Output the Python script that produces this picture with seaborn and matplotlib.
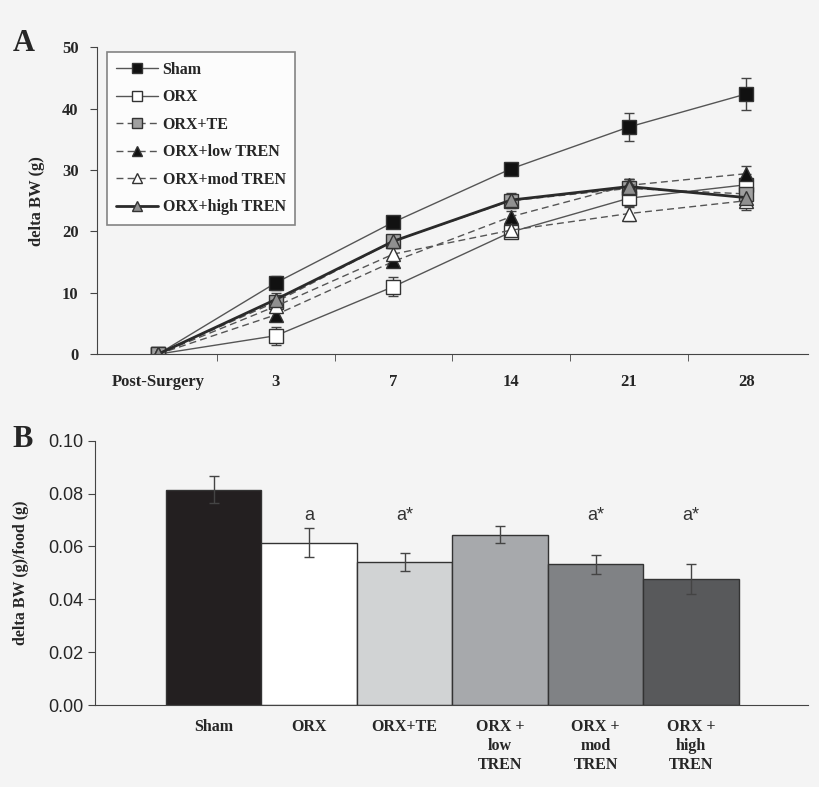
import matplotlib
matplotlib.use("Agg")
import matplotlib.pyplot as plt
import seaborn as sns
import pandas as pd

# Panel A: body weight change over time
days = ["Post-Surgery", "3", "7", "14", "21", "28"]
groups = ["Sham", "ORX", "ORX+TE", "ORX+low TREN", "ORX+mod TREN", "ORX+high TREN"]
sham = [0, 11.6, 21.5, 30.2, 37.0, 42.4]
orx = [0, 3.0, 11.0, 19.9, 25.4, 27.6]
orx_te = [0, 8.5, 18.4, 25.0, 27.0, 26.1]
low_tren = [0, 6.4, 15.1, 22.4, 27.5, 29.4]
mod_tren = [0, 7.8, 16.3, 20.2, 22.9, 25.0]
high_tren = [0, 8.9, 18.4, 25.1, 27.3, 25.5]
sham_err = [0, 1.1, 0.8, 1.0, 2.3, 2.6]
orx_err = [0, 1.5, 1.6, 1.0, 1.4, 1.8]
orx_te_err = [0, 1.0, 1.0, 1.2, 1.5, 1.5]
low_tren_err = [0, 1.0, 0.8, 1.0, 1.0, 1.3]
mod_tren_err = [0, 1.0, 1.0, 1.0, 1.2, 1.5]
high_tren_err = [0, 1.0, 1.0, 1.0, 1.2, 1.4]

# Panel B: body weight gain per food
bar_labels = ["Sham", "ORX", "ORX+TE", "ORX +\nlow\nTREN", "ORX +\nmod\nTREN", "ORX +\nhigh\nTREN"]
ratio = [0.0815, 0.0615, 0.0542, 0.0645, 0.0533, 0.0478]
ratio_err = [0.0050, 0.0055, 0.0035, 0.0031, 0.0036, 0.0057]
sig = ["", "a", "a*", "", "a*", "a*"]

sns.set_style("ticks")
bg = "#f4f4f4"
plt.rcParams["font.family"] = ["Liberation Serif", "DejaVu Serif"]
plt.rcParams["figure.facecolor"] = bg
plt.rcParams["axes.facecolor"] = bg

fig = plt.figure(figsize=(8.2, 7.87), dpi=100)
ax1 = fig.add_axes([0.118, 0.550, 0.867, 0.390])
ax2 = fig.add_axes([0.116, 0.104, 0.869, 0.336])

series = [sham, orx, orx_te, low_tren, mod_tren, high_tren]
errs = [sham_err, orx_err, orx_te_err, low_tren_err, mod_tren_err, high_tren_err]
styles = [
    dict(marker="s", mfc="#111111", ls="-", lw=1.0, color="#555555"),
    dict(marker="s", mfc="white", ls="-", lw=1.0, color="#555555"),
    dict(marker="s", mfc="#a0a0a0", ls="--", lw=1.0, color="#555555"),
    dict(marker="^", mfc="#111111", ls="--", lw=1.0, color="#555555"),
    dict(marker="^", mfc="white", ls="--", lw=1.0, color="#555555"),
    dict(marker="^", mfc="#909090", ls="-", lw=2.0, color="#2a2a2a"),
]
xpos = list(range(len(days)))
for name, vals, err, st in zip(groups, series, errs, styles):
    df = pd.DataFrame({"day": xpos, "bw": vals})
    sns.lineplot(data=df, x="day", y="bw", ax=ax1, color=st["color"],
                 linestyle=st["ls"], linewidth=st["lw"], marker=st["marker"],
                 markersize=10, markerfacecolor=st["mfc"], markeredgecolor="#333333",
                 markeredgewidth=1.0, label=name, dashes=False)
    if st["ls"] == "--":
        ax1.lines[-1].set_dashes([5, 3])
    ax1.errorbar(xpos, vals, yerr=err, fmt="none", ecolor="#444444",
                 elinewidth=1, capsize=3.5, zorder=1)

ax1.set_xlim(-0.52, 5.52)
ax1.set_ylim(0, 50)
ax1.set_yticks([0, 10, 20, 30, 40, 50])
ax1.set_xticks(xpos)
ax1.set_xticklabels(days, fontweight="bold", fontsize=12)
ax1.tick_params(axis="x", length=0, pad=14)
ax1.set_xticks([x + 0.5 for x in xpos[:-1]], minor=True)
ax1.tick_params(axis="x", which="minor", length=5, color="#444444")
ax1.tick_params(axis="y", length=5, color="#444444", labelsize=12, pad=8)
for t in ax1.get_yticklabels():
    t.set_fontweight("bold")
ax1.set_xlabel("")
ax1.set_ylabel("delta BW (g)", fontweight="bold", fontsize=12, labelpad=12)
sns.despine(ax=ax1)
for s in ["left", "bottom"]:
    ax1.spines[s].set_color("#444444")
leg = ax1.legend(loc="upper left", bbox_to_anchor=(0.014, 0.984), borderaxespad=0,
                 frameon=True, fancybox=False, edgecolor="#666666", facecolor="white",
                 prop={"weight": "bold", "size": 11.5}, handlelength=2.6,
                 markerscale=0.75, labelspacing=0.72, borderpad=0.6,
                 handletextpad=0.3)
leg.get_frame().set_linewidth(1.2)

# Panel B bars
bar_colors = ["#231f20", "#ffffff", "#d1d3d4", "#a7a9ac", "#808285", "#58595b"]
dfb = pd.DataFrame({"group": bar_labels, "ratio": ratio})
sns.barplot(data=dfb, x="group", y="ratio", hue="group", palette=bar_colors,
            legend=False, ax=ax2, width=1.0, edgecolor="#333333", linewidth=1.0,
            saturation=1)
bx = list(range(len(bar_labels)))
ax2.errorbar(bx, ratio, yerr=ratio_err, fmt="none", ecolor="#444444",
             elinewidth=1, capsize=3.5)
for x, v, s in zip(bx, ratio, sig):
    if s:
        ax2.text(x, 0.0685, s, ha="center", va="bottom", fontsize=13,
                 family="Liberation Sans", color="#333333")
ax2.set_xlim(-1.24, 6.22)
ax2.set_ylim(0, 0.1)
ax2.set_yticks([0, 0.02, 0.04, 0.06, 0.08, 0.10])
ax2.set_yticklabels(["0.00", "0.02", "0.04", "0.06", "0.08", "0.10"],
                    family="Liberation Sans", fontsize=13)
ax2.set_xticks(bx)
ax2.set_xticklabels(bar_labels, fontweight="bold", fontsize=11.5, linespacing=1.25)
ax2.tick_params(axis="x", length=0, pad=10)
ax2.tick_params(axis="y", length=5, color="#444444")
ax2.set_xlabel("")
ax2.set_ylabel("delta BW (g)/food (g)", fontweight="bold", fontsize=11.5, labelpad=14)
sns.despine(ax=ax2)
for s in ["left", "bottom"]:
    ax2.spines[s].set_color("#444444")

fig.text(0.015, 0.935, "A", fontsize=22, fontweight="bold")
fig.text(0.015, 0.432, "B", fontsize=22, fontweight="bold")

fig.savefig("out.png", dpi=100, facecolor=bg)
